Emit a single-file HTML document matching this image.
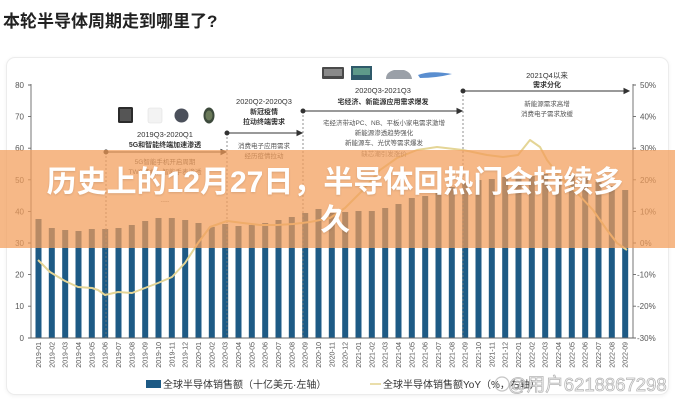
<!DOCTYPE html>
<html><head><meta charset="utf-8"><style>
html,body{margin:0;padding:0;background:#fff;}
body{width:675px;height:400px;position:relative;overflow:hidden;font-family:"Liberation Sans","Noto Sans CJK SC",sans-serif;}
.title{position:absolute;left:3px;top:12px;font-size:17px;line-height:20px;font-weight:bold;color:#222;white-space:nowrap;}
.card{position:absolute;left:6px;top:57px;width:661px;height:336px;border:1px solid #ececec;border-radius:9px;box-shadow:0 1px 4px rgba(0,0,0,0.06);background:#fff;}
svg{position:absolute;left:0;top:0;}
.band{position:absolute;left:0;top:150px;width:675px;height:98px;background:rgba(242,156,89,0.72);}
.big{position:absolute;left:0;top:164px;width:670px;text-align:center;font-size:30px;line-height:38px;font-weight:bold;color:#fff;text-shadow:0 1px 2px rgba(0,0,0,0.12);white-space:nowrap;}
</style></head><body>
<div class="title">本轮半导体周期走到哪里了?</div>
<div class="card"></div>
<svg width="675" height="400" viewBox="0 0 675 400" font-family="Liberation Sans, Noto Sans CJK SC, sans-serif">
<!-- bars -->
<g fill="#1d5a85">
<rect x="35.5" y="219" width="6" height="119"/>
<rect x="48.8" y="228" width="6" height="110"/>
<rect x="62.2" y="230" width="6" height="108"/>
<rect x="75.5" y="231" width="6" height="107"/>
<rect x="88.8" y="229" width="6" height="109"/>
<rect x="102.2" y="229" width="6" height="109"/>
<rect x="115.5" y="228" width="6" height="110"/>
<rect x="128.8" y="225" width="6" height="113"/>
<rect x="142.2" y="221" width="6" height="117"/>
<rect x="155.5" y="218" width="6" height="120"/>
<rect x="168.8" y="218" width="6" height="120"/>
<rect x="182.2" y="220" width="6" height="118"/>
<rect x="195.5" y="223" width="6" height="115"/>
<rect x="208.8" y="227" width="6" height="111"/>
<rect x="222.2" y="224" width="6" height="114"/>
<rect x="235.5" y="226" width="6" height="112"/>
<rect x="248.8" y="225" width="6" height="113"/>
<rect x="262.2" y="223" width="6" height="115"/>
<rect x="275.5" y="220" width="6" height="118"/>
<rect x="288.8" y="217" width="6" height="121"/>
<rect x="302.2" y="213" width="6" height="125"/>
<rect x="315.5" y="209" width="6" height="129"/>
<rect x="328.8" y="213" width="6" height="125"/>
<rect x="342.2" y="212" width="6" height="126"/>
<rect x="355.5" y="211" width="6" height="127"/>
<rect x="368.8" y="211" width="6" height="127"/>
<rect x="382.2" y="208" width="6" height="130"/>
<rect x="395.5" y="204" width="6" height="134"/>
<rect x="408.8" y="198" width="6" height="140"/>
<rect x="422.2" y="196" width="6" height="142"/>
<rect x="435.5" y="193" width="6" height="145"/>
<rect x="448.8" y="187" width="6" height="151"/>
<rect x="462.2" y="183" width="6" height="155"/>
<rect x="475.5" y="180" width="6" height="158"/>
<rect x="488.8" y="179" width="6" height="159"/>
<rect x="502.2" y="177" width="6" height="161"/>
<rect x="515.5" y="175" width="6" height="163"/>
<rect x="528.8" y="176" width="6" height="162"/>
<rect x="542.2" y="174" width="6" height="164"/>
<rect x="555.5" y="175" width="6" height="163"/>
<rect x="568.8" y="175" width="6" height="163"/>
<rect x="582.2" y="178" width="6" height="160"/>
<rect x="595.5" y="182" width="6" height="156"/>
<rect x="608.8" y="186" width="6" height="152"/>
<rect x="622.2" y="190" width="6" height="148"/>
</g>
<!-- dashed verticals -->
<g stroke="#777" stroke-width="0.8" stroke-dasharray="2,2" fill="none">
<line x1="106" y1="152" x2="106" y2="338"/>
<line x1="227" y1="133" x2="227" y2="338"/>
<line x1="303" y1="111" x2="303" y2="338"/>
<line x1="463" y1="91" x2="463" y2="338"/>
</g>
<!-- yoy line -->
<polyline fill="none" stroke="#e4d596" stroke-width="2" stroke-linejoin="round" points="38,260 50,272 65,281 78,287 92,288 98,290 105,295 118,292 132,293 145,288 158,283 172,277 185,263 198,243 210,227 227,221 243,223 260,225 277,225 293,224 310,222 330,218 345,208 363,190 380,170 397,158 417,150 437,147 463,150 487,155 503,157 518,155 530,140 540,147 547,160 560,177 577,193 593,210 607,230 617,243 627,250"/>
<!-- axes -->
<g stroke="#666" stroke-width="0.9" fill="none">
<line x1="31" y1="84" x2="31" y2="338"/>
<line x1="633" y1="84" x2="633" y2="338"/>
<line x1="31" y1="338" x2="633" y2="338"/>
<path d="M28 85H31M28 116.6H31M28 148.2H31M28 179.8H31M28 211.4H31M28 243H31M28 274.6H31M28 306.2H31M28 338H31"/>
<path d="M633 85H636M633 116.6H636M633 148.2H636M633 179.8H636M633 211.4H636M633 243H636M633 274.6H636M633 306.2H636M633 338H636"/>
</g>
<g font-size="8" fill="#555" text-anchor="end">
<text x="24" y="88">80</text><text x="24" y="119.6">70</text><text x="24" y="151.2">60</text><text x="24" y="182.8">50</text><text x="24" y="214.4">40</text><text x="24" y="246">30</text><text x="24" y="277.6">20</text><text x="24" y="309.2">10</text><text x="24" y="341">0</text>
</g>
<g font-size="8" fill="#555">
<text x="640" y="88">50%</text><text x="640" y="119.6">40%</text><text x="640" y="151.2">30%</text><text x="640" y="182.8">20%</text><text x="640" y="214.4">10%</text><text x="640" y="246">0%</text><text x="637" y="277.6">-10%</text><text x="637" y="309.2">-20%</text><text x="637" y="341">-30%</text>
</g>
<!-- x labels -->
<g font-size="7" fill="#555" text-anchor="end">
<text transform="translate(41,342) rotate(-90)">2019-01</text>
<text transform="translate(54.3,342) rotate(-90)">2019-02</text>
<text transform="translate(67.7,342) rotate(-90)">2019-03</text>
<text transform="translate(81,342) rotate(-90)">2019-04</text>
<text transform="translate(94.3,342) rotate(-90)">2019-05</text>
<text transform="translate(107.7,342) rotate(-90)">2019-06</text>
<text transform="translate(121,342) rotate(-90)">2019-07</text>
<text transform="translate(134.3,342) rotate(-90)">2019-08</text>
<text transform="translate(147.7,342) rotate(-90)">2019-09</text>
<text transform="translate(161,342) rotate(-90)">2019-10</text>
<text transform="translate(174.3,342) rotate(-90)">2019-11</text>
<text transform="translate(187.7,342) rotate(-90)">2019-12</text>
<text transform="translate(201,342) rotate(-90)">2020-01</text>
<text transform="translate(214.3,342) rotate(-90)">2020-02</text>
<text transform="translate(227.7,342) rotate(-90)">2020-03</text>
<text transform="translate(241,342) rotate(-90)">2020-04</text>
<text transform="translate(254.3,342) rotate(-90)">2020-05</text>
<text transform="translate(267.7,342) rotate(-90)">2020-06</text>
<text transform="translate(281,342) rotate(-90)">2020-07</text>
<text transform="translate(294.3,342) rotate(-90)">2020-08</text>
<text transform="translate(307.7,342) rotate(-90)">2020-09</text>
<text transform="translate(321,342) rotate(-90)">2020-10</text>
<text transform="translate(334.3,342) rotate(-90)">2020-11</text>
<text transform="translate(347.7,342) rotate(-90)">2020-12</text>
<text transform="translate(361,342) rotate(-90)">2021-01</text>
<text transform="translate(374.3,342) rotate(-90)">2021-02</text>
<text transform="translate(387.7,342) rotate(-90)">2021-03</text>
<text transform="translate(401,342) rotate(-90)">2021-04</text>
<text transform="translate(414.3,342) rotate(-90)">2021-05</text>
<text transform="translate(427.7,342) rotate(-90)">2021-06</text>
<text transform="translate(441,342) rotate(-90)">2021-07</text>
<text transform="translate(454.3,342) rotate(-90)">2021-08</text>
<text transform="translate(467.7,342) rotate(-90)">2021-09</text>
<text transform="translate(481,342) rotate(-90)">2021-10</text>
<text transform="translate(494.3,342) rotate(-90)">2021-11</text>
<text transform="translate(507.7,342) rotate(-90)">2021-12</text>
<text transform="translate(521,342) rotate(-90)">2022-01</text>
<text transform="translate(534.3,342) rotate(-90)">2022-02</text>
<text transform="translate(547.7,342) rotate(-90)">2022-03</text>
<text transform="translate(561,342) rotate(-90)">2022-04</text>
<text transform="translate(574.3,342) rotate(-90)">2022-05</text>
<text transform="translate(587.7,342) rotate(-90)">2022-06</text>
<text transform="translate(601,342) rotate(-90)">2022-07</text>
<text transform="translate(614.3,342) rotate(-90)">2022-08</text>
<text transform="translate(627.7,342) rotate(-90)">2022-09</text>
</g>
<!-- arrows -->
<g stroke="#333" stroke-width="1" fill="#333">
<line x1="106" y1="152" x2="223" y2="152"/><circle cx="106" cy="152" r="2"/><path d="M226 152 L221 149.5 L221 154.5Z"/>
<line x1="227" y1="133" x2="299" y2="133"/><circle cx="227" cy="133" r="2"/><path d="M302 133 L297 130.5 L297 135.5Z"/>
<line x1="303" y1="111" x2="459" y2="111"/><circle cx="303" cy="111" r="2"/><path d="M462 111 L457 108.5 L457 113.5Z"/>
<line x1="463" y1="91" x2="626" y2="91"/><circle cx="463" cy="91" r="2"/><path d="M629 91 L624 88.5 L624 93.5Z"/>
</g>
<!-- icons -->
<rect x="118" y="107" width="15" height="16" rx="1.5" fill="#2b2b2b"/><rect x="120" y="109" width="11" height="12" fill="#555"/>
<rect x="148" y="108" width="14" height="15" rx="2" fill="#f3f3f3" stroke="#e0e0e0" stroke-width="0.6"/>
<circle cx="181.5" cy="115.5" r="7" fill="#4b505b"/>
<ellipse cx="209" cy="115.5" rx="5.5" ry="8" fill="#3d4a3c"/><ellipse cx="209" cy="115.5" rx="3.5" ry="5" fill="#6b7a5a"/>
<rect x="322" y="67" width="22" height="12" rx="1" fill="#4a4a4a"/><rect x="324" y="69" width="18" height="7" fill="#8a8a8a"/>
<rect x="351" y="66" width="21" height="14" fill="#2f5a6a"/><rect x="353" y="68" width="17" height="7" fill="#5e9a8a"/>
<path d="M386 79 Q386 72 394 70 L404 70 Q411 72 412 79 Z" fill="#9aa0a8"/>
<path d="M418 75 Q430 70 452 74 Q436 78 420 78 Z" fill="#5a8ed0"/>
<!-- annotation texts -->
<g font-size="7.5" fill="#333" text-anchor="middle">
<text x="547" y="78">2021Q4以来</text>
<text x="547" y="87" font-weight="bold" font-size="7">需求分化</text>
<text x="547" y="106" font-size="6.5" fill="#555">新能源需求高增</text>
<text x="547" y="116" font-size="6.5" fill="#555">消费电子需求放缓</text>
<text x="383" y="93">2020Q3-2021Q3</text>
<text x="383" y="104" font-weight="bold" font-size="7">宅经济、新能源应用需求爆发</text>
<text x="384" y="125" font-size="6.5" fill="#555">宅经济带动PC、NB、平板小家电需求激增</text>
<text x="384" y="135" font-size="6.5" fill="#555">新能源渗透趋势强化</text>
<text x="384" y="145" font-size="6.5" fill="#555">新能源车、光伏等需求爆发</text>
<text x="384" y="156" font-size="6.5" fill="#777">缺芯潮引发涨价</text>
<text x="264" y="104">2020Q2-2020Q3</text>
<text x="264" y="114" font-weight="bold" font-size="7">新冠疫情</text>
<text x="264" y="124" font-weight="bold" font-size="7">拉动终端需求</text>
<text x="264" y="148" font-size="6.5" fill="#555">消费电子应用需求</text>
<text x="264" y="158" font-size="6.5" fill="#555">经历疫情拉动</text>
<text x="165" y="137">2019Q3-2020Q1</text>
<text x="165" y="147" font-weight="bold" font-size="7">5G和智能终端加速渗透</text>
<text x="165" y="164" font-size="6.5" fill="#555">5G智能手机开启周期</text>
<text x="165" y="174" font-size="6.5" fill="#555">TWS耳机、智能手表渗透</text>
<text x="165" y="203" font-size="6.5" fill="#777">----</text>
</g>
<!-- legend -->
<rect x="146" y="380" width="15" height="8" fill="#1d5a85"/>
<text x="163" y="388" font-size="10" fill="#333">全球半导体销售额（十亿美元·左轴）</text>
<line x1="370" y1="384" x2="381" y2="384" stroke="#e4d596" stroke-width="1.6"/>
<text x="383" y="388" font-size="10" fill="#333">全球半导体销售额YoY（%，右轴）</text>
<!-- watermark -->
<g opacity="0.85">
<circle cx="502" cy="384" r="7" fill="none" stroke="#bbb" stroke-width="1.2"/>
<text x="508" y="391" font-size="18.5" fill="#fff" stroke="#aaa" stroke-width="0.8">@用户6218867298</text>
</g>
</svg>
<div class="band"></div>
<div class="big">历史上的12月27日，半导体回热门会持续多<br>久</div>
</body></html>
